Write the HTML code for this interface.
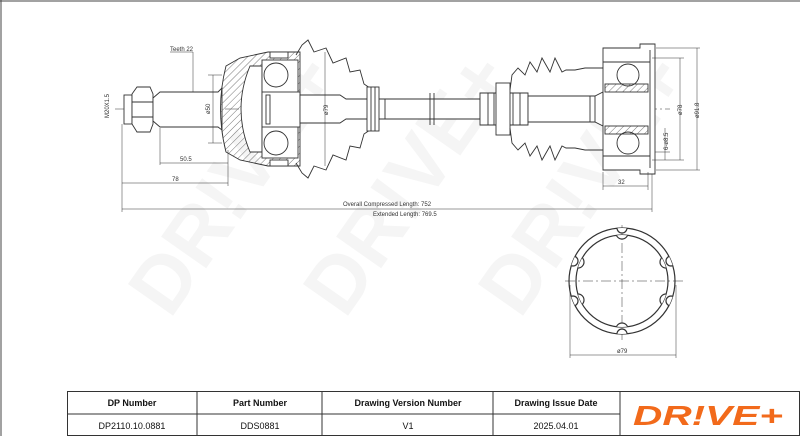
<!DOCTYPE html>
<html><head><meta charset="utf-8"><style>
html,body{margin:0;padding:0;background:#fff;}
svg{display:block;font-family:"Liberation Sans",sans-serif;}
</style></head><body>
<svg width="800" height="436" viewBox="0 0 800 436" xmlns="http://www.w3.org/2000/svg">
<defs>
<pattern id="h" width="5" height="5" patternUnits="userSpaceOnUse" patternTransform="rotate(45)">
<line x1="0" y1="0" x2="0" y2="5" stroke="#555" stroke-width="0.8"/></pattern>
<clipPath id="co"><circle cx="622" cy="281" r="53"/></clipPath>
<clipPath id="ci"><circle cx="622" cy="281" r="46"/></clipPath>
</defs>
<!-- watermark -->
<g fill="#f5f5f5" font-weight="bold" font-size="80" font-family="Liberation Sans,sans-serif">
<text transform="translate(170,320) rotate(-55)">DR!VE+</text>
<text transform="translate(345,320) rotate(-55)">DR!VE+</text>
<text transform="translate(520,320) rotate(-55)">DR!VE+</text>
</g>
<!-- frame -->
<line x1="1" y1="0" x2="1" y2="436" stroke="#444" stroke-width="1"/>
<line x1="0" y1="1" x2="800" y2="1" stroke="#444" stroke-width="1"/>
<g stroke="#333" fill="none" stroke-width="0.9">
<line x1="115" y1="109" x2="670" y2="109" stroke-dasharray="14,3,2,3" stroke-width="0.5"/>
<rect x="124" y="95" width="8" height="29" fill="#fff"/>
<path d="M132 94 L137 87 L150 87 L153 94 L153 124 L150 132 L137 132 L132 124 Z" fill="#fff"/>
<line x1="132" y1="102" x2="153" y2="102"/><line x1="132" y1="117" x2="153" y2="117"/>
<path d="M153 98 L160 92 L218 92 L222 88 L222 130 L218 127 L160 127 L153 121Z" fill="#fff"/>
<path d="M226 66 L240 58 L268 52 L300 52 L300 166 L268 166 L240 160 L226 152 Q215 109 226 66Z" fill="url(#h)"/>
<path d="M250 66 Q232 109 250 152 L262 152 L262 66Z" fill="#fff"/>
<rect x="262" y="60" width="36" height="98" fill="#fff"/>
<circle cx="276" cy="75" r="12"/><circle cx="276" cy="143" r="12"/>
<rect x="262" y="92" width="38" height="35" fill="#fff"/>
<rect x="266" y="95" width="4" height="29"/>
<path d="M296 55 L302 45 L308 40 L314 52 L326 48 L333 63 L346 58 L350 72 L360 70 L364 84 L370 88" />
<path d="M296 163 L302 173 L308 178 L314 166 L326 170 L333 155 L346 160 L350 146 L360 148 L364 134 L370 130" />
<rect x="270" y="52" width="18" height="6" fill="#fff"/><rect x="270" y="160" width="18" height="6" fill="#fff"/>
<path d="M300 95 L340 95 L346 99 L480 99 L480 119 L346 119 L340 123 L300 123Z" fill="#fff"/>
<rect x="367" y="87" width="12" height="44" fill="#fff"/>
<line x1="371" y1="87" x2="371" y2="131"/><line x1="375" y1="87" x2="375" y2="131"/>
<line x1="385" y1="99" x2="385" y2="119"/><line x1="430" y1="93" x2="430" y2="125"/><line x1="434" y1="93" x2="434" y2="125"/>
<path d="M480 93 L528 93 L528 125 L480 125Z" fill="#fff"/>
<line x1="488" y1="93" x2="488" y2="125"/><line x1="494" y1="93" x2="494" y2="125"/><line x1="505" y1="93" x2="505" y2="125"/><line x1="513" y1="93" x2="513" y2="125"/><line x1="520" y1="93" x2="520" y2="125"/>
<rect x="496" y="83" width="14" height="52" fill="#fff"/>
<path d="M528 96 L595 96 L603 92 L603 126 L595 122 L528 122Z" fill="#fff"/>
<line x1="590" y1="96" x2="590" y2="122"/><line x1="595" y1="96" x2="595" y2="122"/>
<path d="M510 90 L512 75 L518 68 L525 75 L530 62 L537 72 L542 58 L550 72 L555 58 L562 72 L566 70 L575 70 L585 68 L603 68"/>
<path d="M510 128 L512 143 L518 150 L525 143 L530 156 L537 146 L542 160 L550 146 L555 160 L562 146 L566 148 L575 148 L585 150 L603 150"/>
<path d="M603 48 L640 48 L640 44 L655 44 L655 174 L640 174 L640 170 L603 170Z" fill="#fff"/>
<line x1="603" y1="62" x2="650" y2="62"/><line x1="603" y1="156" x2="650" y2="156"/>
<line x1="650" y1="50" x2="650" y2="168"/>
<rect x="605" y="84" width="43" height="8" fill="url(#h)"/><rect x="605" y="126" width="43" height="8" fill="url(#h)"/>
<circle cx="628" cy="75" r="11"/><circle cx="628" cy="143" r="11"/>
<g stroke-width="0.5">
<line x1="193" y1="52" x2="193" y2="92"/><line x1="170" y1="52" x2="193" y2="52"/>
<line x1="213" y1="75" x2="213" y2="143"/><line x1="208" y1="75" x2="222" y2="75"/><line x1="208" y1="143" x2="222" y2="143"/>
<line x1="325" y1="52" x2="325" y2="166"/>
<line x1="160" y1="128" x2="160" y2="165"/><line x1="160" y1="163" x2="228" y2="163"/><line x1="228" y1="150" x2="228" y2="186"/>
<line x1="122" y1="124" x2="122" y2="212"/><line x1="122" y1="183" x2="228" y2="183"/>
<line x1="122" y1="209" x2="652" y2="209"/><line x1="652" y1="174" x2="652" y2="212"/>
<line x1="656" y1="48" x2="700" y2="48"/><line x1="656" y1="170" x2="700" y2="170"/>
<line x1="697" y1="48" x2="697" y2="170"/>
<line x1="652" y1="58" x2="684" y2="58"/><line x1="652" y1="160" x2="684" y2="160"/>
<line x1="680" y1="58" x2="680" y2="160"/>
<line x1="665" y1="128" x2="665" y2="160"/><line x1="655" y1="152" x2="670" y2="152"/>
<line x1="603" y1="172" x2="603" y2="190"/><line x1="648" y1="172" x2="648" y2="190"/><line x1="603" y1="186" x2="648" y2="186"/>
<line x1="570" y1="285" x2="570" y2="358"/><line x1="676" y1="285" x2="676" y2="358"/><line x1="570" y1="355" x2="676" y2="355"/>
<line x1="565" y1="281" x2="685" y2="281" stroke-dasharray="10,3,2,3"/><line x1="622" y1="225" x2="622" y2="340" stroke-dasharray="10,3,2,3"/>
</g>
<!-- splined ring -->
<circle cx="622" cy="281" r="53" stroke-width="1.2"/>
<g clip-path="url(#co)" fill="#fff" stroke-width="1.2">
<circle cx="622" cy="228" r="5"/><circle cx="622" cy="334" r="5"/>
<circle cx="573" cy="261" r="5"/><circle cx="573" cy="301" r="5"/>
<circle cx="671" cy="261" r="5"/><circle cx="671" cy="301" r="5"/>
</g>
<circle cx="622" cy="281" r="46" stroke-width="1.2"/>
<g clip-path="url(#ci)" fill="#fff" stroke-width="1.2">
<circle cx="622" cy="233" r="6"/><circle cx="622" cy="329" r="6"/>
<circle cx="578" cy="262" r="6"/><circle cx="578" cy="300" r="6"/>
<circle cx="666" cy="262" r="6"/><circle cx="666" cy="300" r="6"/>
</g>
</g>
<g font-size="6" fill="#333">
<text x="170" y="51">Teeth 22</text>
<text x="180" y="161">50.5</text>
<text x="172" y="181">78</text>
<text x="343" y="206">Overall  Compressed  Length: 752</text>
<text x="373" y="216">Extended  Length: 769.5</text>
<text x="618" y="184">32</text>
<text x="617" y="353">ø79</text>
<text transform="translate(109,118) rotate(-90)">M20X1.5</text>
<text transform="translate(210,114) rotate(-90)">ø50</text>
<text transform="translate(328,115) rotate(-90)">ø79</text>
<text transform="translate(682,115) rotate(-90)">ø78</text>
<text transform="translate(699,118) rotate(-90)">ø91.8</text>
<text transform="translate(668,150) rotate(-90)">6-ø8.5</text>
</g>
<g stroke="#333" stroke-width="1" fill="none">
<rect x="67.5" y="391.5" width="732" height="44"/>
<line x1="67" y1="414" x2="620" y2="414"/>
<line x1="197" y1="391" x2="197" y2="436"/><line x1="322" y1="391" x2="322" y2="436"/>
<line x1="493" y1="391" x2="493" y2="436"/><line x1="620" y1="391" x2="620" y2="436"/>
</g>
<g font-size="9" text-anchor="middle" fill="#111">
<text x="132" y="406" font-weight="bold">DP Number</text>
<text x="260" y="406" font-weight="bold">Part Number</text>
<text x="408" y="406" font-weight="bold">Drawing Version Number</text>
<text x="556" y="406" font-weight="bold">Drawing Issue Date</text>
<text x="132" y="429">DP2110.10.0881</text>
<text x="260" y="429">DDS0881</text>
<text x="408" y="429">V1</text>
<text x="556" y="429">2025.04.01</text>
</g>
<text x="708" y="425" text-anchor="middle" font-size="28" font-weight="bold" font-style="italic" fill="#f26a1b" textLength="150" lengthAdjust="spacingAndGlyphs">DR!VE+</text>
</svg>
</body></html>
